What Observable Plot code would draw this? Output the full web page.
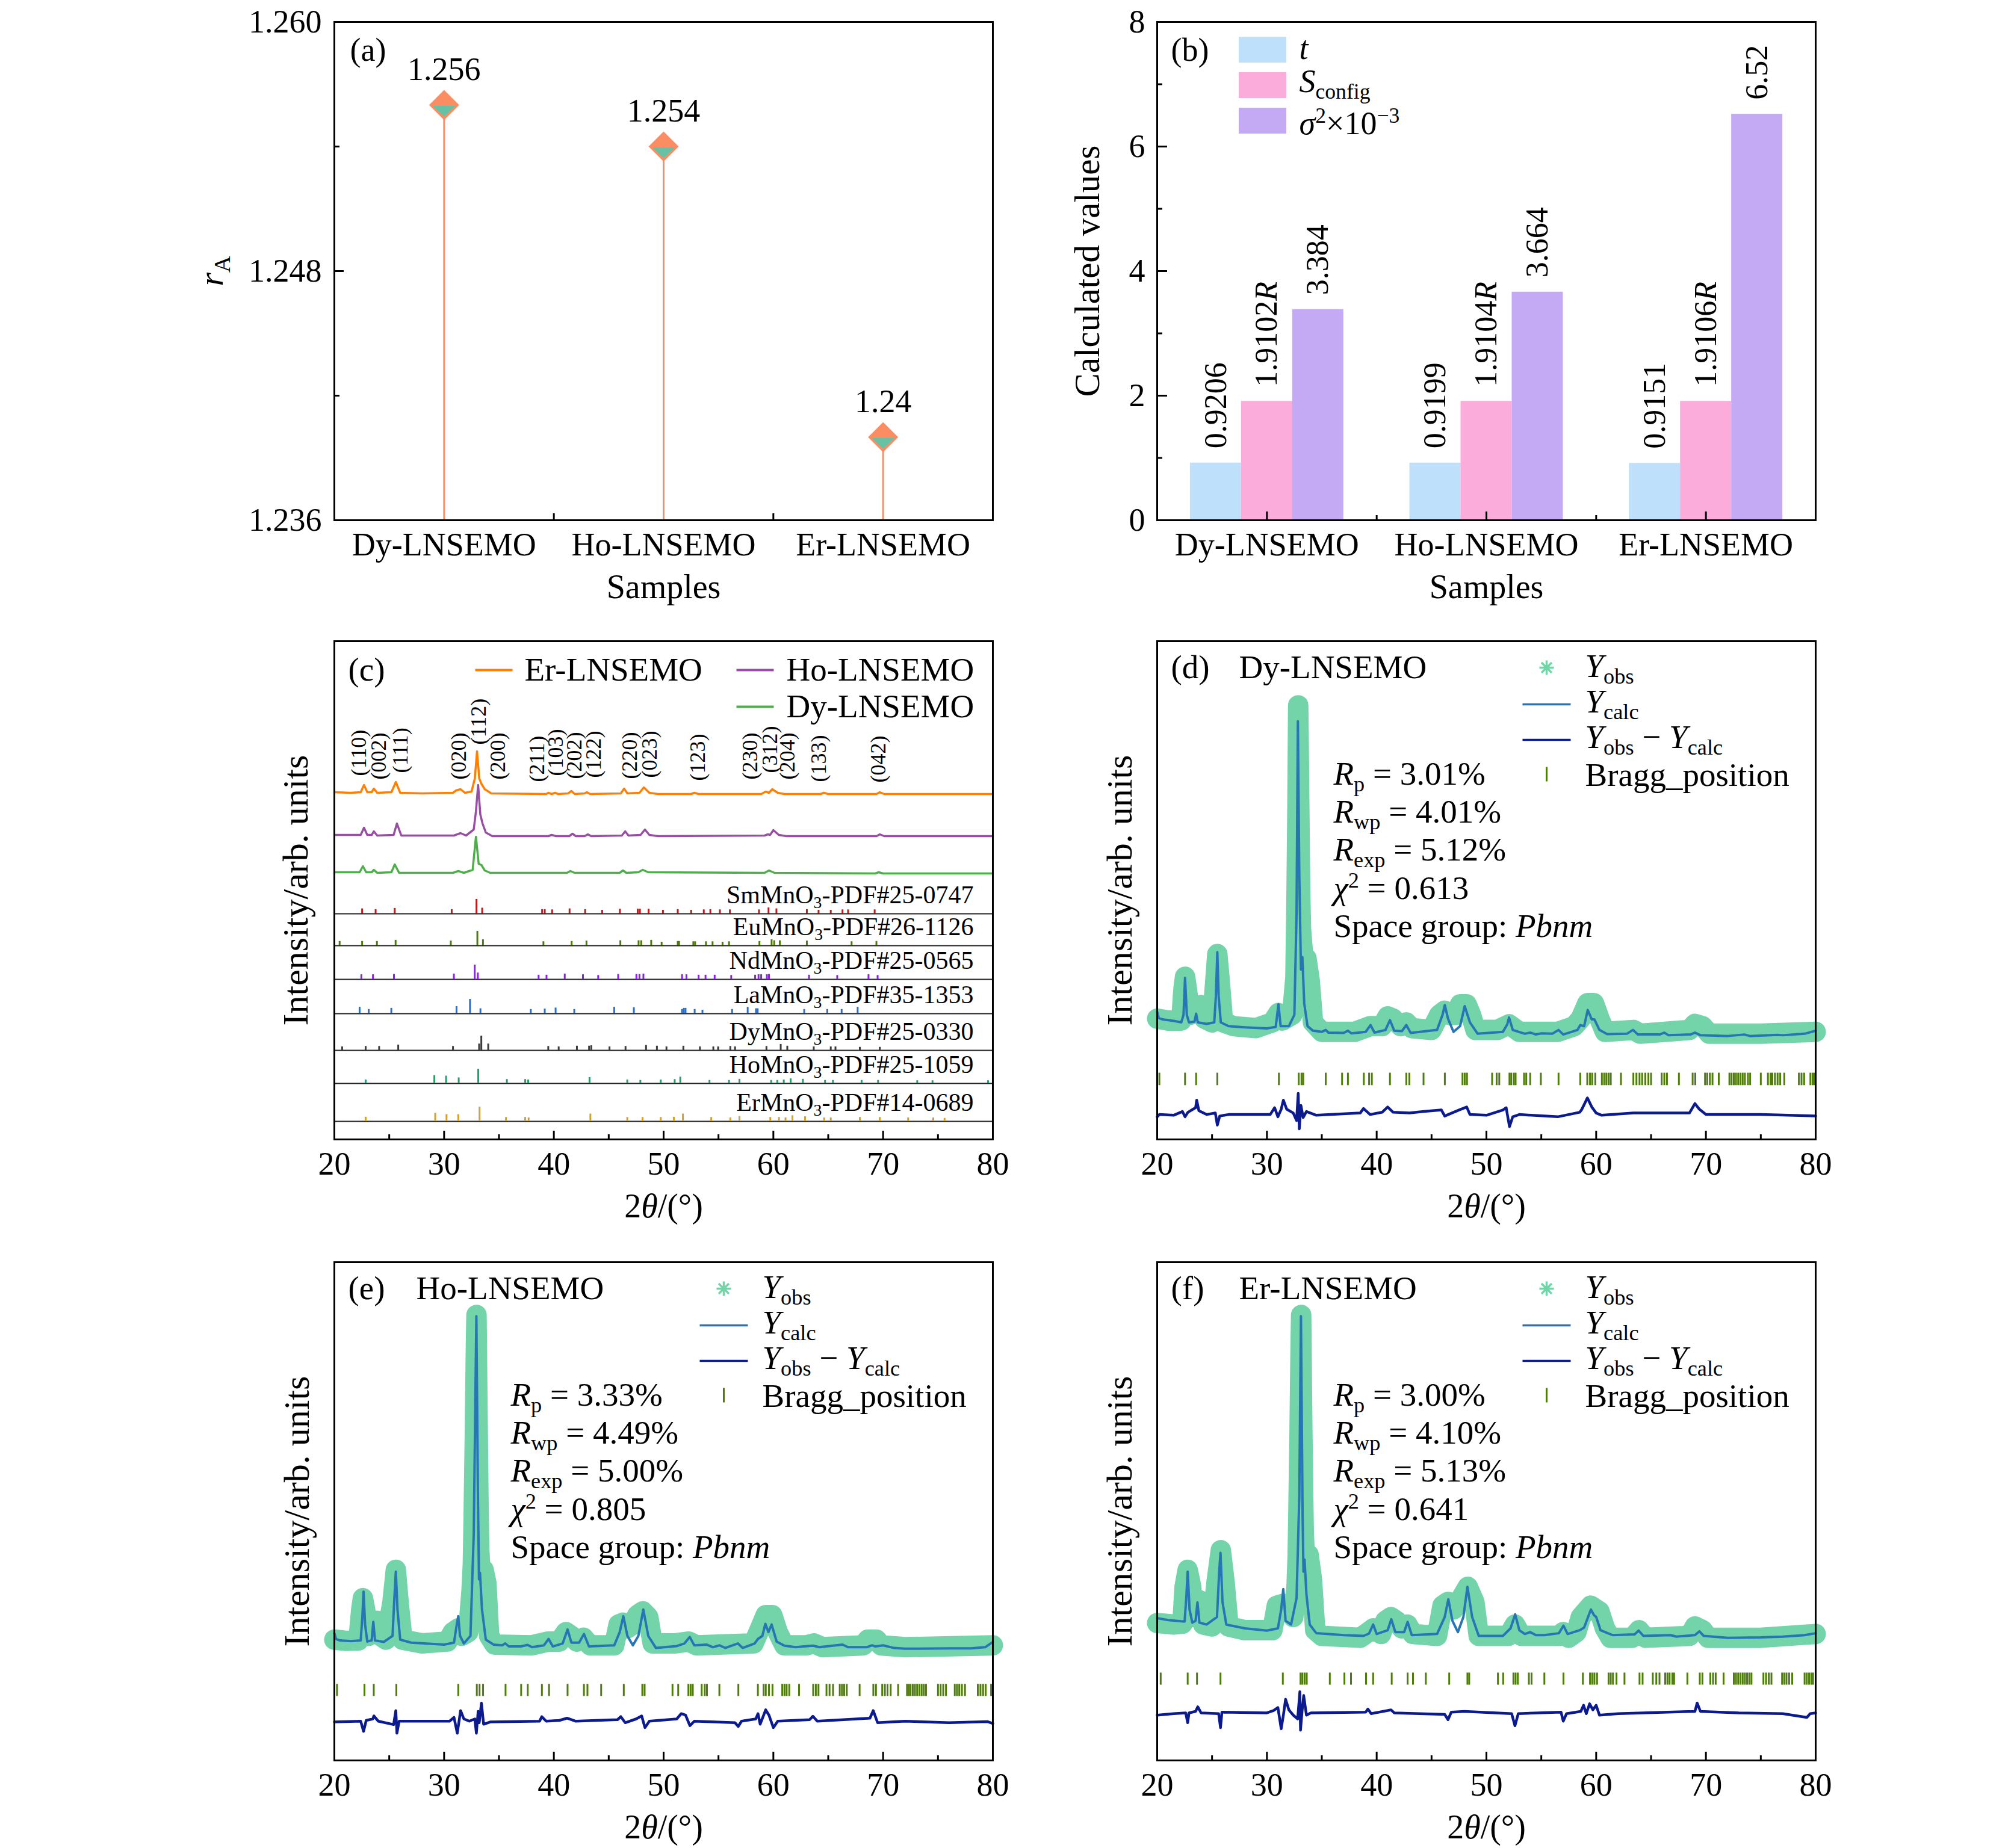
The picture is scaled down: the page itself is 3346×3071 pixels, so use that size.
<!DOCTYPE html>
<html><head><meta charset="utf-8">
<script src="https://cdn.jsdelivr.net/npm/d3@7"></script>
<script src="https://cdn.jsdelivr.net/npm/@observablehq/plot@0.6"></script>
<style>
body{margin:0;background:#fff;}
#root{position:relative;width:3346px;height:3071px;background:#fff;overflow:hidden;}
#root svg{position:absolute;}
</style></head><body><div id="root"></div>
<script>
// ---------------- DATA ----------------
const samples = ["Dy-LNSEMO","Ho-LNSEMO","Er-LNSEMO"];
// (a)
const rA = [1.256, 1.254, 1.240];
const rALabels = ["1.256","1.254","1.24"];
const aYMajor = [1.236, 1.248, 1.260];
const aYMinor = [1.242, 1.254];
// (b)
const tVals = [0.9206, 0.9199, 0.9151];
const sVals = [1.9102, 1.9104, 1.9106];
const sigVals = [3.384, 3.664, 6.52];
const tLabels = ["0.9206","0.9199","0.9151"];
const sLabels = ["1.9102*R*","1.9104*R*","1.9106*R*"];
const sigLabels = ["3.384","3.664","6.52"];
const bYMajor = [0,2,4,6,8];
const bYMinor = [1,3,5,7];
// 2theta ticks
const xMajor = [20,30,40,50,60,70,80];
const xMinor = [25,35,45,55,65,75];
// (c) XRD traces [2theta, intensity]
const erTrace = [[20,577],[21.5,576],[22.4,577],[22.7,589],[23.0,577],[23.4,577],[23.6,583],[23.9,576],[25.2,577],[25.6,594],[26.0,576],[28,575],[30.8,576],[31.1,580],[31.5,582],[31.9,576],[32.5,578],[32.8,600],[33.0,645],[33.2,600],[33.4,591],[33.7,582],[34.3,575],[39.3,574],[39.5,576],[39.8,574],[40.1,576],[40.4,574],[41.3,575],[41.6,579],[41.9,574],[42.8,575],[43.0,577],[43.3,574],[46.1,575],[46.4,583],[46.7,575],[47.8,576],[48.2,585],[48.7,576],[49.5,574],[52.5,574],[52.8,576],[53.2,574],[58.9,574],[59.3,578],[59.6,576],[59.9,582],[60.4,576],[61,574],[64.3,574],[64.6,576],[65,574],[69.4,574],[69.7,577],[70.1,574],[80,574]];
const hoTrace = [[20,506],[22.4,506],[22.7,518],[23.0,506],[23.4,506],[23.6,512],[23.9,505],[25.4,506],[25.7,525],[26.1,505],[30.9,505],[31.5,509],[32.0,505],[32.7,515],[32.9,545],[33.1,589],[33.3,540],[33.5,525],[33.8,510],[34.4,504],[39.5,504],[39.8,506],[40.2,504],[41.4,504],[41.7,508],[42.0,504],[42.8,504],[43.1,507],[43.4,504],[46.2,505],[46.5,512],[46.8,505],[47.9,506],[48.3,515],[48.7,506],[49.5,504],[59.2,505],[59.5,507],[59.7,506],[60.0,514],[60.5,506],[61.2,504],[69.4,504],[69.7,507],[70.1,504],[80,504]];
const dyTrace = [[20,444],[22.3,444],[22.6,454],[22.9,444],[23.4,444],[23.6,448],[23.9,443],[25.2,444],[25.5,457],[25.9,443],[30.8,443],[31.3,446],[31.8,443],[32.6,448],[32.9,503],[33.15,458],[33.4,456],[33.7,447],[34.2,443],[41.2,443],[41.5,446],[41.9,443],[46.0,443],[46.3,447],[46.6,443],[47.7,444],[48.1,448],[48.6,444],[59.2,443],[59.6,447],[60.1,443],[69.3,442],[69.6,444],[70,442],[80,442]];
// Miller indices
const hkl = ["(110)","(002)","(111)","(020)","(112)","(200)","(211)","(103)","(202)","(122)","(220)","(023)","(123)","(230)","(312)","(204)","(133)","(042)"];
const hklPos = [22.26,24.04,26.02,31.37,33.15,34.93,38.50,40.20,41.86,43.64,46.93,48.71,53.15,57.90,59.68,61.27,64.16,69.58];
const hklY = [604,598,609,598,656,598,594,604,599,601,599,601,596,598,609,598,594,593];
// PDF stick patterns [2theta, relative intensity]
const pdfNames = ["SmMnO_{3}-PDF#25-0747","EuMnO_{3}-PDF#26-1126","NdMnO_{3}-PDF#25-0565","LaMnO_{3}-PDF#35-1353","DyMnO_{3}-PDF#25-0330","HoMnO_{3}-PDF#25-1059","ErMnO_{3}-PDF#14-0689"];
const pdfBase = [375,322,266,209,148,93,30];
const smSticks = [[22.53,35],[23.76,30],[25.50,38],[30.69,30],[32.95,100],[33.47,40],[38.93,30],[39.17,30],[39.84,28],[41.43,35],[42.85,30],[44.40,25],[46.02,33],[47.64,33],[47.84,33],[48.63,33],[49.94,25],[51.29,30],[52.51,25],[53.66,28],[54.26,30],[55.13,28],[56.04,28],[58.69,28],[59.56,42],[60.28,35],[63.05,30],[64.12,25],[65.23,25],[66.30,28],[66.81,28],[69.23,28]];
const euSticks = [[20.48,30],[22.53,30],[23.88,30],[25.58,38],[30.61,33],[33.03,100],[33.54,42],[39.05,28],[41.62,30],[42.97,33],[46.06,35],[47.72,35],[47.96,35],[48.87,38],[49.82,25],[51.29,30],[51.41,30],[52.71,28],[52.87,28],[53.86,28],[54.46,28],[55.37,25],[55.96,28],[58.73,30],[59.84,42],[60.08,35],[60.59,35],[63.05,33],[67.13,28],[69.39,30]];
const ndSticks = [[22.46,33],[23.52,33],[25.43,35],[30.89,38],[32.79,100],[33.07,45],[38.61,30],[39.33,30],[40.99,38],[42.65,33],[44.04,28],[45.86,35],[47.52,35],[47.80,35],[48.16,38],[51.68,33],[52.08,33],[53.19,30],[53.82,30],[54.65,30],[56.16,28],[58.34,30],[58.65,33],[58.89,33],[59.41,33],[59.60,35],[63.25,30],[65.82,28],[68.67,33],[69.50,28]];
const laSticks = [[22.30,45],[23.13,30],[25.19,38],[31.13,50],[32.36,100],[33.31,35],[37.90,30],[39.17,33],[40.16,40],[41.86,30],[45.50,45],[47.29,42],[51.68,30],[51.84,38],[52.00,38],[52.83,30],[53.54,25],[56.24,30],[57.66,45],[58.42,35],[58.57,35],[62.81,30],[64.91,30],[66.22,30],[67.68,45]];
const dySticks = [[20.71,25],[22.85,28],[24.08,28],[25.82,38],[30.81,28],[33.19,45],[33.39,100],[34.02,45],[39.49,28],[40.44,25],[42.10,30],[43.21,30],[43.41,33],[45.07,25],[46.53,28],[48.40,35],[49.39,30],[50.26,25],[51.80,30],[53.31,25],[54.53,25],[54.97,25],[56.08,28],[56.51,25],[59.37,28],[60.67,42],[61.27,30],[63.68,25],[65.23,25],[65.66,25],[67.88,22],[69.70,22]];
const hoSticks = [[22.85,25],[29.11,55],[30.18,52],[31.33,40],[33.11,100],[35.72,28],[37.39,28],[37.66,25],[43.25,42],[46.69,25],[47.88,22],[49.74,25],[51.01,28],[51.52,45],[54.18,22],[55.96,22],[56.91,30],[59.80,22],[60.36,22],[60.95,25],[61.58,33],[62.69,30],[64.71,22],[65.43,22],[68.04,22],[69.54,22],[73.11,20],[74.50,20],[79.56,20]];
const erSticks = [[22.85,30],[29.19,57],[30.22,48],[31.29,48],[33.23,100],[35.64,28],[37.39,28],[37.70,25],[43.33,52],[46.69,28],[48.08,28],[49.74,28],[50.93,30],[51.76,52],[54.34,28],[56.08,25],[56.91,35],[59.72,28],[60.51,28],[61.11,25],[61.74,40],[62.89,33],[64.63,25],[65.23,25],[67.88,28],[69.70,28],[72.28,25],[74.57,25],[75.60,22]];
const pdfSticks = [smSticks, euSticks, ndSticks, laSticks, dySticks, hoSticks, erSticks];
const pdfColors = ["#b51f1f","#4e7a0b","#8a22e6","#2a6fc9","#3c3c3c","#2a9d6a","#d4a22a"];

// (d) Dy-LNSEMO refinement
const dObs = [[20,320],[21,315],[22.2,315],[22.4,400],[22.54,431],[22.7,400],[23.0,330],[23.4,335],[23.6,345],[24.0,356],[24.3,320],[25.0,310],[25.3,420],[25.48,491],[25.7,420],[26.0,310],[27,300],[29,295],[30.5,310],[31.05,335],[31.4,315],[32.3,330],[32.6,430],[32.62,480],[32.66,560],[32.7,650],[32.74,760],[32.78,880],[32.81,1000],[32.85,1150],[32.88,1080],[32.92,960],[32.96,850],[33.0,740],[33.04,640],[33.1,560],[33.3,486],[33.6,480],[33.9,420],[34.2,310],[35,285],[38,285],[39.4,300],[40.5,300],[41.0,326],[41.5,320],[42.2,300],[42.7,310],[43.2,295],[45,290],[45.7,330],[46.2,341],[46.6,330],[47.2,330],[47.6,358],[48.2,358],[48.6,330],[49,290],[51.0,290],[52.06,305],[53,285],[56.5,285],[58.0,300],[58.6,320],[59.2,361],[59.8,361],[60.3,320],[60.8,285],[63.4,290],[64,280],[68.5,290],[69.0,306],[69.7,300],[70.3,280],[75,280],[80,285]];
const dCalc = [[20.0,338],[20.15,322],[20.5,318],[21.5,314],[22.2,310],[22.4,330],[22.54,428],[22.7,330],[22.9,310],[23.4,312],[23.55,333],[23.7,310],[24.5,306],[25.2,310],[25.35,380],[25.48,496],[25.6,380],[25.8,310],[26.5,300],[28,297],[30,294],[30.8,298],[31.05,358],[31.25,300],[32.0,300],[32.5,330],[32.7,600],[32.82,1108],[32.95,700],[33.1,450],[33.23,483],[33.4,360],[33.7,300],[34.2,288],[35.0,285],[35.36,290],[35.6,283],[37.0,282],[37.38,288],[37.7,281],[39.0,285],[39.44,303],[39.8,283],[40.8,290],[41.21,316],[41.6,288],[42.3,287],[42.7,303],[43.1,282],[45.5,290],[46.0,330],[46.21,356],[46.5,320],[47.0,285],[47.6,300],[48.02,353],[48.5,310],[49.2,280],[51.5,285],[51.9,305],[52.06,323],[52.4,290],[53.5,280],[54.0,283],[54.5,278],[55.0,281],[56.0,280],[56.57,290],[57.0,278],[58.3,290],[58.55,303],[58.9,300],[59.23,343],[59.6,318],[59.84,318],[60.3,290],[61.0,279],[62.8,280],[63.35,290],[63.8,278],[65.8,278],[66.2,283],[66.6,276],[68.6,278],[69.0,283],[69.5,276],[72,274],[73.5,278],[74,274],[76.5,277],[77,276],[79,280],[80,288]];
const dDiff = [[20,60],[20.2,66],[21.5,64],[22.3,74],[22.54,60],[22.8,72],[23.5,84],[23.6,104],[23.8,76],[24.5,66],[25.3,70],[25.48,38],[25.7,62],[26.5,66],[30.3,66],[30.7,84],[31.0,60],[31.3,80],[31.5,104],[31.8,80],[32.4,70],[32.7,50],[32.85,122],[32.95,28],[33.1,90],[33.3,58],[33.6,74],[34.5,64],[38.5,70],[38.8,82],[39.4,66],[40.5,72],[41.0,86],[41.5,72],[43,70],[44.3,74],[45.9,78],[46.2,62],[47.5,78],[48.2,86],[48.5,66],[50,64],[51.5,78],[51.8,84],[52.1,34],[52.4,60],[53,66],[56.5,60],[58.5,72],[58.7,80],[59.2,110],[59.6,86],[60.0,70],[60.5,64],[63.4,70],[66.2,70],[68.5,70],[69.0,95],[69.4,80],[70,66],[75,66],[80,62]];
const dBragg = [20.20,22.54,23.55,25.48,31.09,32.90,33.15,33.31,35.36,36.85,37.38,38.83,39.31,39.56,41.21,42.70,42.98,44.27,46.21,47.82,48.02,48.23,50.52,50.93,51.17,52.10,52.26,52.50,52.66,53.43,53.63,53.99,54.96,56.57,58.55,59.19,59.44,59.64,59.92,60.52,60.73,60.93,61.13,61.33,62.26,63.39,63.67,63.95,64.19,64.48,64.76,65.00,65.97,66.21,66.45,67.54,68.79,69.03,69.92,70.12,70.36,70.60,71.17,72.14,72.34,72.54,72.74,72.94,73.15,73.35,73.55,73.83,74.03,75.00,75.65,75.89,76.05,76.29,76.53,76.77,77.14,78.47,78.71,78.95,79.52,79.72,79.88];
const dStats = ["*R*_{p} = 3.01%","*R*_{wp} = 4.01%","*R*_{exp} = 5.12%","*χ*^{2} = 0.613","Space group: *Pbnm*"];

// (e) Ho-LNSEMO refinement
const eObs = [[20,320],[21,317],[22.2,318],[22.45,400],[22.6,430],[22.8,400],[23.1,330],[23.5,355],[23.9,370],[24.2,330],[24.7,320],[25.3,420],[25.6,505],[25.85,420],[26.2,320],[28,310],[30.3,315],[30.8,340],[31.3,350],[31.6,330],[32.2,340],[32.5,450],[32.62,520],[32.68,620],[32.74,740],[32.8,860],[32.85,980],[32.9,1100],[32.95,1180],[32.99,1080],[33.03,960],[33.07,850],[33.11,740],[33.15,640],[33.2,560],[33.3,505],[33.6,505],[33.85,470],[34.1,330],[34.6,307],[38,305],[39.5,315],[40.5,315],[41.1,340],[41.6,330],[42.1,315],[42.7,325],[43.3,305],[45.5,305],[45.9,360],[46.3,365],[46.7,350],[47.2,360],[47.6,385],[48.1,395],[48.6,380],[49.0,310],[51.0,310],[52.3,315],[53.0,305],[58.2,310],[58.8,350],[59.3,385],[59.9,385],[60.4,340],[61.0,305],[63.0,305],[63.7,310],[64.5,300],[68.2,305],[68.6,320],[69.4,320],[69.8,305],[72,300],[80,305]];
const eCalc = [[20.0,337],[20.15,322],[20.5,318],[21.5,316],[22.4,318],[22.55,380],[22.66,447],[22.8,360],[23.0,315],[23.4,318],[23.55,367],[23.7,318],[24.5,314],[25.3,330],[25.45,420],[25.6,500],[25.75,400],[26.0,320],[27,312],[30,307],[30.9,312],[31.15,360],[31.29,382],[31.45,330],[31.8,310],[32.4,330],[32.7,600],[32.94,1177],[33.08,700],[33.18,480],[33.27,497],[33.45,400],[33.8,320],[34.5,307],[35.3,305],[35.56,310],[35.9,302],[37,302],[37.6,306],[38,300],[39.1,305],[39.52,322],[39.9,302],[40.8,310],[41.25,347],[41.6,312],[42.3,312],[42.74,335],[43.2,302],[45.5,305],[46.0,340],[46.33,382],[46.7,330],[47.2,305],[47.7,330],[48.15,400],[48.6,330],[49.3,298],[51.2,303],[51.9,310],[52.38,327],[52.8,305],[53.9,307],[54.5,300],[55.1,305],[55.6,298],[56.77,310],[57.2,298],[58.3,310],[58.6,322],[59.0,330],[59.27,362],[59.55,340],[59.84,360],[60.3,315],[61,304],[62,300],[63.6,304],[64.2,300],[66.3,307],[66.8,300],[68.5,300],[69.0,305],[69.3,302],[70,305],[71,298],[72,296],[76,297],[78,297],[79.3,300],[80,314]];
const eDiff = [[20,102],[22.4,104],[22.66,77],[22.9,106],[23.5,110],[23.6,118],[24,104],[25.4,95],[25.6,132],[25.7,72],[25.9,104],[30.5,104],[30.9,114],[31.2,72],[31.5,132],[31.8,110],[32.3,104],[32.8,110],[32.94,72],[33.1,130],[33.2,100],[33.4,152],[33.6,96],[34.2,102],[38.7,104],[38.9,116],[39.3,104],[40.5,106],[41.2,112],[42.0,104],[45.8,108],[46.1,116],[46.5,100],[47.5,110],[48.0,118],[48.3,87],[48.7,104],[51.2,110],[51.6,124],[52.0,120],[52.4,92],[52.8,104],[56.5,100],[56.8,90],[57.1,104],[58.4,110],[58.6,124],[58.8,96],[59.3,134],[59.6,120],[60.0,87],[60.4,104],[63.3,108],[63.6,117],[64.0,104],[68.8,112],[69.1,132],[69.5,100],[72,104],[76,100],[79.5,103],[80,98]];
const eBragg = [20.24,22.74,23.59,25.65,31.29,32.98,33.23,33.55,35.60,37.02,37.62,38.91,39.56,41.25,42.74,43.06,44.31,46.37,48.06,48.27,50.81,51.33,52.26,52.46,52.66,53.47,53.75,53.95,55.08,56.81,58.59,59.11,59.31,59.60,59.92,60.81,61.01,61.21,61.45,62.34,63.63,63.87,64.11,64.84,65.12,65.44,66.05,66.25,66.45,66.69,67.86,69.11,69.35,69.92,70.16,70.40,70.69,71.37,72.18,72.34,72.50,72.70,72.90,73.10,73.31,73.51,73.71,73.91,75.00,75.24,75.48,75.73,76.53,76.73,76.94,77.18,77.46,78.63,78.87,79.11,79.35,79.84];
const eStats = ["*R*_{p} = 3.33%","*R*_{wp} = 4.49%","*R*_{exp} = 5.00%","*χ*^{2} = 0.805","Space group: *Pbnm*"];

// (f) Er-LNSEMO refinement
const fObs = [[20,364],[21.5,360],[22.3,362],[22.5,460],[22.78,505],[23.1,460],[23.3,380],[23.8,425],[24.2,360],[25.0,355],[25.4,470],[25.8,557],[26.15,470],[26.5,355],[28,345],[30.5,345],[30.9,410],[31.5,415],[31.9,400],[32.4,380],[32.7,460],[32.8,540],[32.86,640],[32.92,760],[32.98,880],[33.03,1000],[33.08,1120],[33.12,1180],[33.16,1070],[33.2,940],[33.25,820],[33.3,700],[33.36,600],[33.45,545],[33.8,545],[34.1,480],[34.4,345],[35,330],[38.5,325],[39.0,335],[39.7,350],[40.4,335],[40.8,370],[41.3,380],[41.8,370],[42.3,350],[42.8,360],[43.3,335],[45.5,330],[46.0,410],[46.5,420],[47.0,400],[47.5,420],[48.3,460],[48.9,420],[49.3,330],[52.0,330],[52.6,360],[53.2,330],[56.6,330],[57.0,340],[57.5,325],[58.2,340],[58.6,380],[59.5,410],[60.3,395],[60.8,350],[61.3,325],[63.3,325],[63.9,345],[64.5,325],[68.5,330],[69.0,355],[69.7,345],[70.2,325],[75,325],[80,335]];
const fCalc = [[20,377],[21,372],[22.5,368],[22.65,430],[22.78,500],[22.95,400],[23.2,365],[23.5,370],[23.67,419],[23.85,365],[24.5,360],[25.45,380],[25.65,500],[25.77,550],[25.95,420],[26.3,360],[28,350],[30,344],[31.0,350],[31.3,400],[31.49,454],[31.7,370],[32.2,360],[32.7,430],[32.95,700],[33.1,1177],[33.25,650],[33.33,500],[33.43,532],[33.6,440],[33.9,360],[34.5,337],[37,332],[38.8,330],[39.3,336],[39.68,360],[40.0,335],[41.0,345],[41.33,374],[41.7,340],[42.5,340],[42.82,367],[43.2,332],[45.5,335],[46.2,380],[46.53,427],[46.9,370],[47.4,340],[47.9,380],[48.27,460],[48.7,380],[49.3,330],[51.5,330],[52.2,350],[52.62,387],[53.0,345],[53.5,335],[54.0,340],[54.5,332],[55.3,332],[56.6,337],[57.02,357],[57.4,335],[58.5,345],[58.9,352],[59.52,400],[59.8,385],[60.0,380],[60.4,345],[61.5,332],[63.5,334],[63.87,344],[64.3,330],[66.8,332],[67.3,328],[69.0,332],[69.4,342],[69.8,330],[72,325],[75,326],[77,328],[79,332],[80,337]];
const fDiff = [[20,120],[21.5,124],[22.6,126],[22.78,100],[22.9,126],[23.5,130],[23.7,142],[24,126],[25.6,124],[25.77,87],[25.9,128],[30.0,126],[30.6,132],[31.0,140],[31.3,84],[31.5,120],[31.7,162],[32.0,134],[32.4,120],[32.8,110],[33.0,182],[33.06,80],[33.2,130],[33.35,172],[33.6,120],[34,126],[39,128],[39.2,136],[39.5,124],[41.3,134],[41.6,126],[46.2,122],[46.5,108],[46.8,128],[48,130],[52.3,124],[52.6,92],[52.9,124],[56.8,128],[57.0,104],[57.3,124],[58.6,130],[58.85,146],[59.1,124],[59.4,150],[59.7,134],[60.0,146],[60.3,120],[62,124],[69.0,130],[69.2,152],[69.5,130],[73,126],[77,124],[79.2,114],[79.5,124],[80,126]];
const fBragg = [20.32,22.78,23.63,25.77,31.45,33.06,33.23,33.43,33.63,35.73,37.06,37.66,39.03,39.68,41.37,42.82,43.31,44.48,46.61,48.27,48.43,51.05,51.53,52.46,52.66,52.86,53.87,54.11,55.28,57.02,58.79,59.44,59.64,59.84,60.08,61.13,61.33,61.53,61.85,62.58,63.95,64.23,65.16,65.48,65.77,66.29,66.49,66.69,66.94,67.10,68.31,69.44,69.68,70.40,70.65,70.89,71.61,72.54,72.74,72.94,73.15,73.35,73.55,73.75,73.95,74.15,75.24,75.48,75.73,75.97,76.94,77.14,77.34,77.58,77.86,78.99,79.19,79.40,79.60,79.76];
const fStats = ["*R*_{p} = 3.00%","*R*_{wp} = 4.10%","*R*_{exp} = 5.13%","*χ*^{2} = 0.641","Space group: *Pbnm*"];

// ---------------- LAYOUT / STYLE ----------------
const root = document.getElementById("root");
const FONT = "'Liberation Serif','Times New Roman',serif";
const FW = 1094, FH = 828, ML = 260, MR = 60, MT = 30, MB = 170;
const W = ML + FW + MR, H = MT + FH + MB;
const COLS = [555, 1922], ROWS = [36, 1065, 2097];
const SVGNS = "http://www.w3.org/2000/svg";

function base(extra) {
  return {width: W, height: H, marginLeft: ML, marginRight: MR, marginTop: MT, marginBottom: MB,
    style: {fontFamily: FONT, background: "transparent", overflow: "visible", color: "black"}, ...extra};
}
function richify(svg) {
  svg.querySelectorAll("text").forEach(t => {
    const s = t.textContent;
    if (!/\*|_\{|\^\{/.test(s)) return;
    if (t.querySelector("tspan")) return;
    const fs = parseFloat(getComputedStyle(t).fontSize) || 56;
    const parts = s.split(/(\*[^*]+\*|_\{[^}]*\}|\^\{[^}]*\})/g).filter(p => p !== "");
    t.textContent = "";
    let shift = 0;
    for (const p of parts) {
      const ts = document.createElementNS(SVGNS, "tspan");
      let target = 0, txt = p, small = false, ital = false;
      if (p.startsWith("_{")) { txt = p.slice(2, -1); target = 0.2 * fs; small = true; }
      else if (p.startsWith("^{")) { txt = p.slice(2, -1); target = -0.34 * fs; small = true; }
      else if (p.startsWith("*")) { txt = p.slice(1, -1); ital = true; }
      const d = target - shift;
      if (d) ts.setAttribute("dy", d);
      shift = target;
      if (small) ts.setAttribute("font-size", 0.66 * fs);
      if (ital) ts.setAttribute("font-style", "italic");
      ts.textContent = txt;
      t.appendChild(ts);
    }
  });
}
function place(svg, col, row) {
  svg.style.left = (COLS[col] - ML) + "px";
  svg.style.top = (ROWS[row] - MT) + "px";
  root.appendChild(svg);
  richify(svg);
}
const frame = () => Plot.frame({stroke: "black", strokeWidth: 3});
const xIn = (vals, len) => Plot.ruleX(vals, {x: d => d, insetTop: FH - len, stroke: "black", strokeWidth: 3});
const yIn = (vals, len) => Plot.ruleY(vals, {y: d => d, insetRight: FW - len, stroke: "black", strokeWidth: 3});
const xTitle = (s) => Plot.text([s], {frameAnchor: "bottom", lineAnchor: "middle", textAnchor: "middle", dy: 112, text: d => d, fontSize: 56});
const yTitle = (s, off, size = 58) => Plot.text([s], {frameAnchor: "left", lineAnchor: "middle", textAnchor: "middle", dx: -off, rotate: -90, text: d => d, fontSize: size});
const ann = (s, dx, dy, size = 55) => Plot.text([s], {frameAnchor: "top-left", lineAnchor: "middle", dx, dy, text: d => d, textAnchor: "start", fontSize: size});
const radius = (size) => Math.sqrt(size / Math.PI);
const symHLine = (w) => ({draw(ctx) { ctx.moveTo(-w, 0); ctx.lineTo(w, 0); }});
const symVLine = (h) => ({draw(ctx) { ctx.moveTo(0, -h); ctx.lineTo(0, h); }});
const symRect = (w, h) => ({draw(ctx) { ctx.rect(-w / 2, -h / 2, w, h); }});
const symAst = {draw(ctx, size) { const r = radius(size); for (let k = 0; k < 4; k++) { const a = k * Math.PI / 4; ctx.moveTo(-r * Math.cos(a), -r * Math.sin(a)); ctx.lineTo(r * Math.cos(a), r * Math.sin(a)); } }};
const symDiamond = {draw(ctx, size) { const r = radius(size); ctx.moveTo(0, -r); ctx.lineTo(r, 0); ctx.lineTo(0, r); ctx.lineTo(-r, 0); ctx.closePath(); }};
const symLowerTri = {draw(ctx, size) { const r = radius(size); ctx.moveTo(-(r - 6), 1.5); ctx.lineTo(r - 6, 1.5); ctx.lineTo(0, r - 6); ctx.closePath(); }};
const legendDot = (dx, dy, symbol, o) => Plot.dot([0], {frameAnchor: "top-left", dx, dy, symbol, r: 4, ...o});
const axOpts = {tickSize: 0, fontSize: 54, fontFamily: FONT, label: null};
const xAxisDeg = () => Plot.axisX(xMajor, {...axOpts, tickPadding: 20, tickFormat: d => String(d)});

// ---------------- (a) ----------------
{
  const data = samples.map((s, i) => ({pos: i + 0.5, v: rA[i], label: rALabels[i]}));
  const svg = Plot.plot(base({
    x: {domain: [0, 3], label: null}, y: {domain: [aYMajor[0], aYMajor[aYMajor.length - 1]], label: null},
    marks: [
      Plot.ruleX(data, {x: "pos", y1: aYMajor[0], y2: "v", stroke: "#f4906c", strokeWidth: 3}),
      Plot.dot(data, {x: "pos", y: "v", symbol: symDiamond, r: 25, fill: "#fc8d62", stroke: "none"}),
      Plot.dot(data, {x: "pos", y: "v", symbol: symLowerTri, r: 25, fill: "#66c2a5", stroke: "none"}),
      Plot.text(data, {x: "pos", y: "v", text: "label", dy: -59, fontSize: 54}),
      frame(),
      yIn(aYMajor, 16), yIn(aYMinor, 9), xIn([1, 2], 11),
      Plot.axisY(aYMajor, {...axOpts, tickPadding: 21, tickFormat: d => d.toFixed(3)}),
      Plot.axisX([0.5, 1.5, 2.5], {...axOpts, tickPadding: 20, tickFormat: d => samples[Math.floor(d)]}),
      xTitle("Samples"), yTitle("*r*_{A}", 204),
      ann("(a)", 26, 47, 54)
    ]
  }));
  place(svg, 0, 0);
}

// ---------------- (b) ----------------
{
  const bw = 0.233;
  const series = [
    {vals: tVals, labels: tLabels, color: "#bee0fa", name: "*t*"},
    {vals: sVals, labels: sLabels, color: "#fbacdb", name: "*S*_{config}"},
    {vals: sigVals, labels: sigLabels, color: "#c4aaf4", name: "*σ*^{2}×10^{−3}"}
  ];
  const marks = [];
  series.forEach((s, k) => {
    const rows = samples.map((n, i) => ({x1: i + 0.5 + (k - 1.5) * bw, x2: i + 0.5 + (k - 0.5) * bw, xc: i + 0.5 + (k - 1) * bw, v: s.vals[i], label: s.labels[i]}));
    marks.push(Plot.rectY(rows, {x1: "x1", x2: "x2", y1: 0, y2: "v", fill: s.color}));
    marks.push(Plot.text(rows, {x: "xc", y: "v", text: "label", rotate: -90, textAnchor: "start", lineAnchor: "middle", dy: -24, fontSize: 52}));
    marks.push(legendDot(175, [46, 105, 164][k], symRect(79, 43), {fill: s.color, stroke: "none"}));
    marks.push(ann(s.name, 236, [44, 99, 169][k], 54));
  });
  const svg = Plot.plot(base({
    x: {domain: [0, 3], label: null}, y: {domain: [bYMajor[0], bYMajor[bYMajor.length - 1]], label: null},
    marks: [
      ...marks,
      frame(),
      yIn(bYMajor, 17), yIn(bYMinor, 9), xIn([0.5, 1.5, 2.5], 14), xIn([1, 2], 8),
      Plot.axisY(bYMajor, {...axOpts, tickPadding: 20, tickFormat: d => String(d)}),
      Plot.axisX([0.5, 1.5, 2.5], {...axOpts, tickPadding: 20, tickFormat: d => samples[Math.floor(d)]}),
      xTitle("Samples"), yTitle("Calculated values", 115, 59),
      ann("(b)", 23, 47, 54)
    ]
  }));
  place(svg, 1, 0);
}

// ---------------- (c) ----------------
{
  const marks = [];
  pdfSticks.forEach((st, k) => {
    marks.push(Plot.ruleX(st, {x: d => d[0], y1: pdfBase[k], y2: d => pdfBase[k] + d[1] * 0.24, stroke: pdfColors[k], strokeWidth: 3}));
    marks.push(Plot.text([pdfNames[k]], {frameAnchor: "right", lineAnchor: "middle", y: pdfBase[k], dx: -32, dy: -31, text: d => d, textAnchor: "end", fontSize: 42}));
  });
  const hklData = hkl.map((h, i) => ({h, x: hklPos[i], y: hklY[i]}));
  const svg = Plot.plot(base({
    x: {domain: [20, 80], label: null}, y: {domain: [0, FH], axis: null, label: null},
    marks: [
      Plot.ruleY(pdfBase, {y: d => d, stroke: "#222", strokeWidth: 2}),
      ...marks,
      Plot.line(erTrace, {x: d => d[0], y: d => d[1], stroke: "#ff7f00", strokeWidth: 3.5}),
      Plot.line(hoTrace, {x: d => d[0], y: d => d[1], stroke: "#984ea3", strokeWidth: 3.5}),
      Plot.line(dyTrace, {x: d => d[0], y: d => d[1], stroke: "#4daf4a", strokeWidth: 3.5}),
      Plot.text(hklData, {x: "x", y: "y", text: "h", rotate: -90, textAnchor: "start", lineAnchor: "middle", fontSize: 36}),
      frame(),
      xIn(xMajor, 14), xIn(xMinor, 8), xAxisDeg(),
      xTitle("2*θ*/(°)"), yTitle("Intensity/arb. units", 64, 60),
      ann("(c)", 23, 48),
      legendDot(265, 48, symHLine(31), {stroke: "#ff7f00", strokeWidth: 4, fill: "none"}),
      ann("Er-LNSEMO", 316, 48),
      legendDot(699, 48, symHLine(31), {stroke: "#984ea3", strokeWidth: 4, fill: "none"}),
      ann("Ho-LNSEMO", 751, 48),
      legendDot(699, 109, symHLine(31), {stroke: "#4daf4a", strokeWidth: 4, fill: "none"}),
      ann("Dy-LNSEMO", 751, 109)
    ]
  }));
  place(svg, 0, 1);
}

// ---------------- (d)(e)(f) ----------------
const OBS = "#73d4a9", CALC = "#2676b6", DIFF = "#0c1a90", BRAGG = "#4e7d0a";
function refine(tag, name, obs, calc, diff, bragg, braggRow, stats, col, row) {
  const svg = Plot.plot(base({
    x: {domain: [20, 80], label: null}, y: {domain: [0, 1320], axis: null, label: null},
    marks: [
      Plot.line(obs, {x: d => d[0], y: d => d[1], stroke: OBS, strokeWidth: 34, strokeLinejoin: "round", strokeLinecap: "round"}),
      Plot.dot(obs, {x: d => d[0], y: d => d[1], symbol: symAst, r: 11, stroke: OBS, strokeWidth: 3, fill: "none"}),
      Plot.line(calc, {x: d => d[0], y: d => d[1], stroke: CALC, strokeWidth: 4}),
      Plot.ruleX(bragg, {x: d => d, y1: braggRow[0], y2: braggRow[1], stroke: BRAGG, strokeWidth: 3}),
      Plot.line(diff, {x: d => d[0], y: d => d[1], stroke: DIFF, strokeWidth: 4.5}),
      frame(),
      xIn(xMajor, 14), xIn(xMinor, 8), xAxisDeg(),
      xTitle("2*θ*/(°)"), yTitle("Intensity/arb. units", 62, 60),
      ann(tag, 23, 44), ann(name, 136, 44),
      legendDot(647, 44, symAst, {r: 12, stroke: OBS, strokeWidth: 3.5, fill: "none"}),
      legendDot(647, 105, symHLine(40), {stroke: CALC, strokeWidth: 3.5, fill: "none"}),
      legendDot(647, 164, symHLine(40), {stroke: DIFF, strokeWidth: 3.5, fill: "none"}),
      legendDot(647, 221, symVLine(12), {stroke: BRAGG, strokeWidth: 3, fill: "none"}),
      ann("*Y*_{obs}", 711, 42), ann("*Y*_{calc}", 711, 101), ann("*Y*_{obs} − *Y*_{calc}", 711, 160), ann("Bragg_position", 711, 223),
      ...stats.map((s, i) => ann(s, 293, [221, 284, 347, 411, 474][i]))
    ]
  }));
  place(svg, col, row);
}
refine("(d)", "Dy-LNSEMO", dObs, dCalc, dDiff, dBragg, [143, 176], dStats, 1, 1);
refine("(e)", "Ho-LNSEMO", eObs, eCalc, eDiff, eBragg, [170, 202], eStats, 0, 2);
refine("(f)", "Er-LNSEMO", fObs, fCalc, fDiff, fBragg, [200, 232], fStats, 1, 2);
</script></body></html>
